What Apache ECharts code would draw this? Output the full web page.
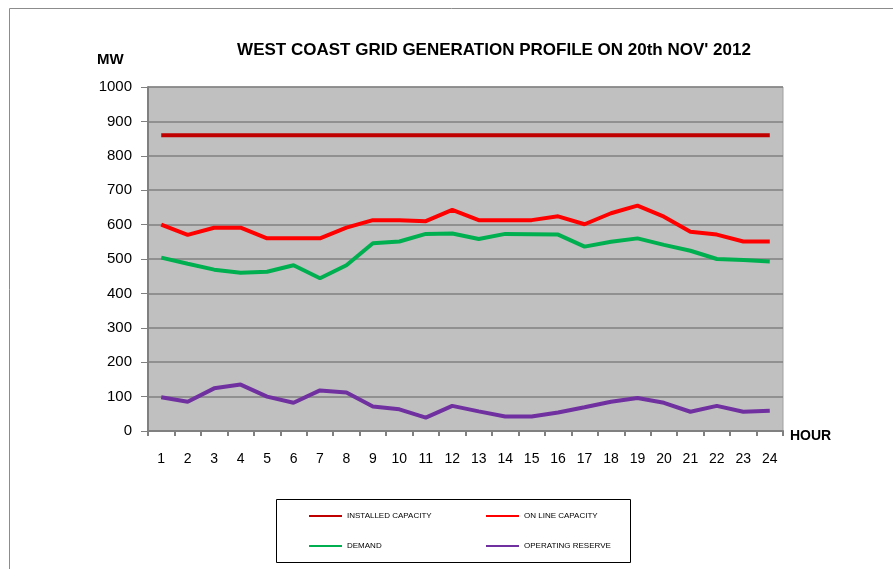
<!DOCTYPE html>
<html>
<head>
<meta charset="utf-8">
<script src="https://cdn.jsdelivr.net/npm/echarts@6/dist/echarts.min.js"></script>
<style>
  html, body { margin: 0; padding: 0; background: #fff; }
  #chart { width: 893px; height: 569px; }
</style>
</head>
<body>
<div id="chart"></div>
<script>
  // hours of the day
  var hours = ['1','2','3','4','5','6','7','8','9','10','11','12','13','14','15','16','17','18','19','20','21','22','23','24'];

  // MW values
  var installedCapacity = [860,860,860,860,860,860,860,860,860,860,860,860,860,860,860,860,860,860,860,860,860,860,860,860];
  var onlineCapacity = [600,570,591,591,560,560,560,591,613,613,610,643,613,613,613,624,601,633,655,623,579,571,551,551];
  var demand = [504,486,469,460,463,482,444,482,546,551,573,574,558,573,572,571,536,550,560,541,524,500,497,493];
  var operatingReserve = [98,85,124,135,100,82,118,112,71,63,39,73,57,42,42,54,69,85,96,82,56,73,56,59];

  var chart = echarts.init(document.getElementById('chart'));

  function line(name, data, color) {
    return {
      name: name,
      type: 'line',
      data: data,
      symbol: 'none',
      lineStyle: { color: color, width: 4 },
      itemStyle: { color: color },
      animation: false
    };
  }

  var legendText = { fontSize: 8, color: '#000', fontFamily: 'Liberation Sans' };

  chart.setOption({
    animation: false,
    textStyle: { fontFamily: 'Liberation Sans' },
    title: {
      text: "WEST COAST GRID GENERATION PROFILE ON 20th NOV' 2012",
      left: 489,
      textAlign: 'center',
      top: 37,
      textStyle: { fontSize: 17, fontWeight: 'bold', color: '#000', fontFamily: 'Liberation Sans' }
    },
    graphic: [
      { type: 'rect', shape: { x: 9.5, y: 8.5, width: 900, height: 600 }, style: { fill: 'none', stroke: '#8c8c8c', lineWidth: 1 }, z: -10 },
      { type: 'rect', shape: { x: 276.5, y: 499.5, width: 354, height: 63 }, style: { fill: 'none', stroke: '#000', lineWidth: 1 } },
      { type: 'text', x: 97, y: 52, style: { text: 'MW', fontSize: 15, fontWeight: 'bold', fill: '#000', fontFamily: 'Liberation Sans' } },
      { type: 'text', x: 790, y: 429, style: { text: 'HOUR', fontSize: 14, fontWeight: 'bold', fill: '#000', fontFamily: 'Liberation Sans' } }
    ],
    legend: [
      {
        data: ['INSTALLED CAPACITY', 'DEMAND'],
        orient: 'vertical',
        left: 304, top: 507,
        itemWidth: 33, itemHeight: 2, itemGap: 22,
        icon: 'rect',
        textStyle: legendText
      },
      {
        data: ['ON LINE CAPACITY', 'OPERATING RESERVE'],
        orient: 'vertical',
        left: 481, top: 507,
        itemWidth: 33, itemHeight: 2, itemGap: 22,
        icon: 'rect',
        textStyle: legendText
      }
    ],
    grid: { left: 148, top: 87, width: 635, height: 344, backgroundColor: '#c0c0c0', show: true, borderColor: '#a0a0a0', borderWidth: 1 },
    xAxis: {
      type: 'category',
      data: hours,
      boundaryGap: true,
      axisLine: { lineStyle: { color: '#808080', width: 2 } },
      axisTick: { show: true, length: 5, inside: false, lineStyle: { color: '#808080', width: 2 } },
      axisLabel: { fontSize: 14, color: '#000', margin: 21 },
      splitLine: { show: false }
    },
    yAxis: {
      type: 'value',
      min: 0, max: 1000, interval: 100,
      axisLine: { show: true, lineStyle: { color: '#808080', width: 2 } },
      axisTick: { show: true, length: 7, lineStyle: { color: '#808080' } },
      axisLabel: { fontSize: 15, color: '#000', margin: 16, formatter: function (v) { return String(v); } },
      splitLine: { show: true, lineStyle: { color: '#808080', width: 1.5 } }
    },
    series: [
      line('INSTALLED CAPACITY', installedCapacity, '#c00000'),
      line('ON LINE CAPACITY', onlineCapacity, '#ff0000'),
      line('DEMAND', demand, '#00b050'),
      line('OPERATING RESERVE', operatingReserve, '#7030a0')
    ]
  });
</script>
</body>
</html>
